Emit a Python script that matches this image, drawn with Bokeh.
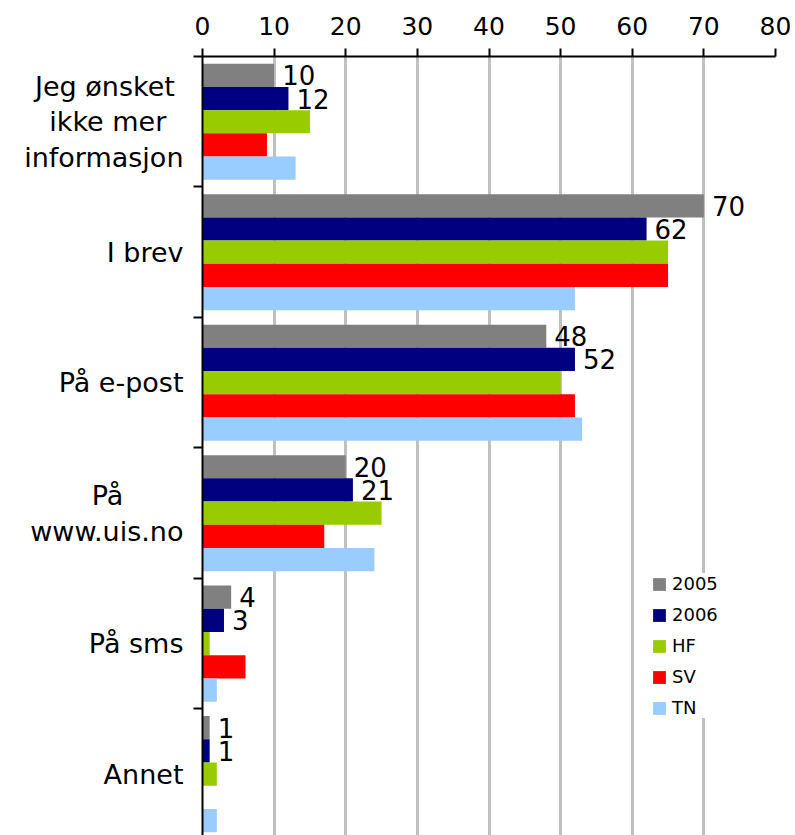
import numpy as np
from bokeh.plotting import figure
from bokeh.models import ColumnDataSource, Range1d, FixedTicker, Legend
from bokeh.core.properties import value
from bokeh.embed import file_html
from bokeh.resources import INLINE

NB = "\u00a0"
categories = ["Jeg ønsket" + NB, "ikke mer" + NB * 2, "informasjon"]
categories = ["\n".join(categories), "I brev", "På e-post",
              "På" + NB * 7 + "\nwww.uis.no", "På sms", "Annet"]
series_names = ["2005", "2006", "HF", "SV", "TN"]
s2005 = [10, 70, 48, 20, 4, 1]
s2006 = [12, 62, 52, 21, 3, 1]
s_hf = [15, 65, 50, 25, 1, 2]
s_sv = [9, 65, 52, 17, 6, 0]
s_tn = [13, 52, 53, 24, 2, 2]
x_ticks = [0, 10, 20, 30, 40, 50, 60, 70, 80]

colors = ["#808080", "#000080", "#99CC00", "#FF0000", "#99CCFF"]
all_series = [s2005, s2006, s_hf, s_sv, s_tn]
labelled = [True, True, False, False, False]

FONT = "DejaVu Sans"
n = len(categories)
bar_h = 0.356
start_off = 0.11

p = figure(width=794, height=835, output_backend="svg", toolbar_location=None,
           x_range=Range1d(0, 80), y_range=Range1d(start=11.94, end=0),
           x_axis_location="above", min_border_left=202, min_border_right=19,
           min_border_top=56, min_border_bottom=0)
p.outline_line_color = None
p.background_fill_color = "white"
p.border_fill_color = "white"

# grid
p.ygrid.grid_line_color = None
p.xgrid.ticker = FixedTicker(ticks=x_ticks[1:])
p.xgrid.grid_line_color = "#c0c0c0"
p.xgrid.grid_line_width = 3

# x axis (top)
xa = p.xaxis[0]
xa.ticker = FixedTicker(ticks=x_ticks)
xa.axis_line_width = 2
xa.axis_line_color = "black"
xa.major_tick_line_width = 2
xa.major_tick_out = 8
xa.major_tick_in = 0
xa.minor_tick_out = 0
xa.minor_tick_in = 0
xa.major_label_text_font = FONT
xa.major_label_text_font_size = "25px"
xa.major_label_text_color = "black"
xa.major_label_standoff = 14

# y axis (left)
ya = p.yaxis[0]
centers = [2 * i + 1 for i in range(n)]
bounds = [2 * i for i in range(n + 1)]
ya.ticker = FixedTicker(ticks=centers, minor_ticks=bounds)
ya.major_label_overrides = {c: lab for c, lab in zip(centers, categories)}
ya.axis_line_width = 2
ya.axis_line_color = "black"
ya.major_tick_out = 0
ya.major_tick_in = 0
ya.minor_tick_out = 9
ya.minor_tick_in = 0
ya.minor_tick_line_width = 2
ya.minor_tick_line_color = "black"
ya.major_label_text_font = FONT
ya.major_label_text_font_size = "27px"
ya.major_label_text_line_height = 1.15
ya.major_label_text_color = "black"
ya.major_label_standoff = 10

legend_items = []
for j, (name, vals, col, lab) in enumerate(zip(series_names, all_series, colors, labelled)):
    ys = [2 * i + start_off + bar_h * (j + 0.5) for i in range(n)]
    src = ColumnDataSource(dict(y=ys, right=vals, txt=[str(v) for v in vals]))
    r = p.hbar(y="y", right="right", left=0, height=bar_h, source=src,
               fill_color=col, line_color=None)
    legend_items.append((name, [r]))
    if lab:
        p.text(x="right", y="y", text="txt", source=src, x_offset=8,
               text_baseline="middle", text_align="left",
               text_font=value(FONT), text_font_size="26px", text_color="black")

legend = Legend(items=legend_items, location=(449, 117))
legend.border_line_color = None
legend.background_fill_color = "white"
legend.background_fill_alpha = 1.0
legend.padding = 8
legend.spacing = 10
legend.label_height = 21
legend.glyph_height = 16
legend.glyph_width = 16
legend.label_standoff = 5
legend.label_text_font = FONT
legend.label_text_font_size = "18px"
legend.label_text_color = "black"
legend.margin = 0
p.add_layout(legend, "center")

open("out.html", "w").write(file_html(p, INLINE))
